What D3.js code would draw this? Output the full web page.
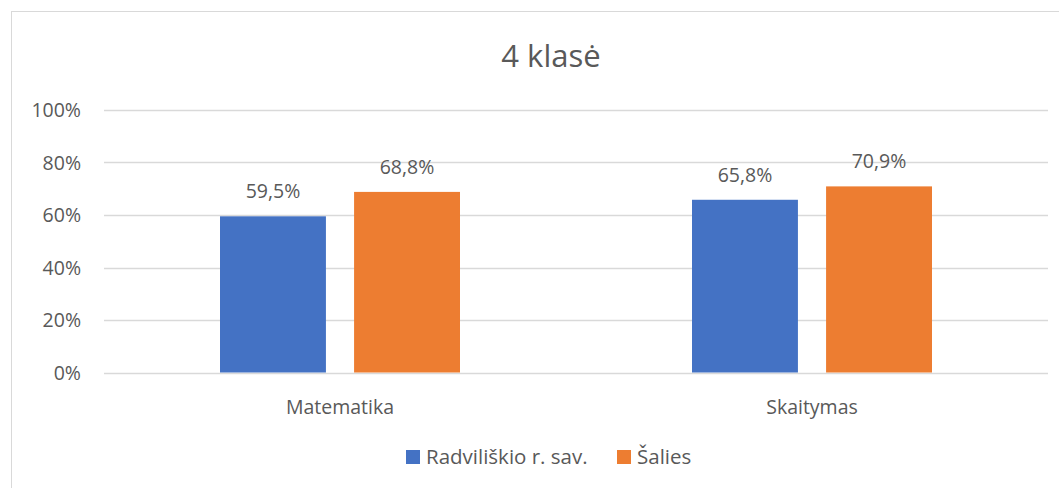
<!DOCTYPE html>
<html>
<head>
<meta charset="utf-8">
<script src="https://cdn.jsdelivr.net/npm/d3@7"></script>
<style>
  body { margin: 0; background: #fff; }
  text { font-family: "Open Sans", "Liberation Sans", sans-serif; fill: #595959; }
</style>
</head>
<body>
<div class="app"></div>
<script>
// chart data
var categories = ["Matematika", "Skaitymas"];
var seriesNames = ["Radviliškio r. sav.", "Šalies"];
var radviliskis = [59.5, 65.8];
var salies = [68.8, 70.9];
var yTicks = [0, 20, 40, 60, 80, 100];
var colors = ["#4472C4", "#ED7D31"];

var width = 1059, height = 488;
var margin = {top: 110, right: 11, bottom: 115.5, left: 104};
var innerW = width - margin.left - margin.right,
    innerH = height - margin.top - margin.bottom;

var svg = d3.select(".app").append("svg")
    .attr("width", width)
    .attr("height", height);

// outer frame
svg.append("rect")
    .attr("x", 11.5).attr("y", 11.5)
    .attr("width", width + 20).attr("height", height + 20)
    .attr("fill", "none")
    .attr("stroke", "#d9d9d9");

// title
svg.append("text")
    .attr("x", 551).attr("y", 67)
    .attr("text-anchor", "middle")
    .style("font-size", "31px")
    .text("4 klasė");

var g = svg.append("g")
    .attr("transform", "translate(" + margin.left + "," + margin.top + ")");

var x0 = d3.scaleBand().domain(categories).range([0, innerW]);
var x1 = d3.scaleBand().domain(seriesNames).range([0, 240]).paddingInner(0.21);
var y = d3.scaleLinear().domain([0, 100]).range([innerH, 0]);

// gridlines
g.selectAll(".grid").data(yTicks).enter().append("line")
    .attr("x1", 0).attr("x2", innerW)
    .attr("y1", function(d) { return Math.round(y(d)) + 0.5; })
    .attr("y2", function(d) { return Math.round(y(d)) + 0.5; })
    .attr("stroke", "#d9d9d9")
    .attr("stroke-width", 1.3);

// y labels
g.selectAll(".ylab").data(yTicks).enter().append("text")
    .attr("x", -23)
    .attr("y", function(d) { return y(d); })
    .attr("dy", "0.36em")
    .attr("text-anchor", "end")
    .style("font-size", "19.5px")
    .text(function(d) { return d + "%"; });

// category labels
g.selectAll(".xlab").data(categories).enter().append("text")
    .attr("x", function(d) { return x0(d) + x0.bandwidth() / 2; })
    .attr("y", innerH + 34)
    .attr("dy", "0.36em")
    .attr("text-anchor", "middle")
    .style("font-size", "19.5px")
    .text(function(d) { return d; });

var rows = categories.map(function(c, i) {
  return {cat: c, vals: [
    {name: seriesNames[0], v: radviliskis[i], c: colors[0]},
    {name: seriesNames[1], v: salies[i], c: colors[1]}
  ]};
});

var grp = g.selectAll(".cat").data(rows).enter().append("g")
    .attr("transform", function(d) {
      return "translate(" + (x0(d.cat) + x0.bandwidth() / 2 - 120) + ",0)";
    });

grp.selectAll("rect").data(function(d) { return d.vals; }).enter().append("rect")
    .attr("x", function(d) { return x1(d.name); })
    .attr("width", x1.bandwidth())
    .attr("y", function(d) { return y(d.v); })
    .attr("height", function(d) { return innerH - y(d.v); })
    .attr("fill", function(d) { return d.c; });

grp.selectAll(".lab").data(function(d) { return d.vals; }).enter().append("text")
    .attr("x", function(d) { return x1(d.name) + x1.bandwidth() / 2; })
    .attr("y", function(d) { return y(d.v) - 18; })
    .attr("text-anchor", "middle")
    .style("font-size", "19.5px")
    .text(function(d) { return d.v.toFixed(1).replace(".", ",") + "%"; });

// legend
var legX = [406, 617];
var leg = svg.selectAll(".leg").data(seriesNames).enter().append("g")
    .attr("transform", function(d, i) { return "translate(" + legX[i] + ",450)"; });
leg.append("rect")
    .attr("width", 14).attr("height", 14)
    .attr("fill", function(d, i) { return colors[i]; });
leg.append("text")
    .attr("x", 20).attr("y", 7)
    .attr("dy", "0.36em")
    .style("font-size", "20.5px")
    .text(function(d) { return d; });
</script>
</body>
</html>
